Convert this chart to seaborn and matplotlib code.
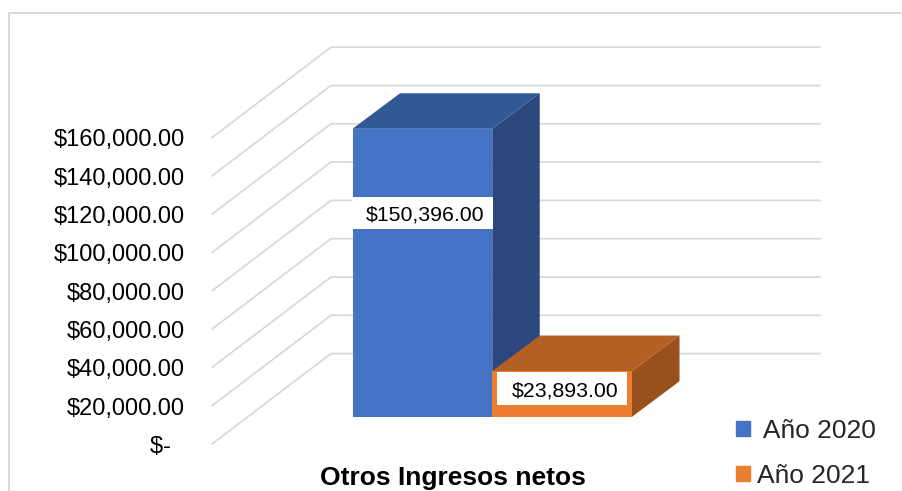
import seaborn as sns
import pandas as pd
import matplotlib.pyplot as plt
from matplotlib.lines import Line2D
from matplotlib.patches import Polygon, Rectangle
from matplotlib.transforms import Affine2D

category = ['Otros Ingresos netos']
years = ['Año 2020', 'Año 2021']
values = [150396, 23893]
value_labels = ['$150,396.00', '$23,893.00']
tick_values = [0, 20000, 40000, 60000, 80000, 100000, 120000, 140000, 160000]
tick_labels = ['$-  ', '$20,000.00', '$40,000.00', '$60,000.00', '$80,000.00',
               '$100,000.00', '$120,000.00', '$140,000.00', '$160,000.00']

front_colors = ['#4472C4', '#ED7D31']
top_colors = ['#335896', '#B46024']
side_colors = ['#2A487D', '#98511D']
grid_color = '#D9D9D9'

W, H = 902, 491
LEFT, RIGHT, BOTTOM, TOP = 352.5, 632, 416.8, 110.4  # px, from the top left corner


def main():
    sns.set_style('white')
    plt.rcParams['font.family'] = ['Liberation Sans', 'DejaVu Sans']

    fig = plt.figure(figsize=(W / 100, H / 100), dpi=100)
    ax = fig.add_axes([LEFT / W, 1 - BOTTOM / H, (RIGHT - LEFT) / W, (BOTTOM - TOP) / H])

    data = pd.DataFrame({'category': category * 2, 'year': years, 'value': values})
    sns.barplot(data=data, x='category', y='value', hue='year', palette=front_colors,
                width=0.8, gap=0, saturation=1, legend=False, linewidth=0, edgecolor='none', ax=ax)

    ax.set_xlim(-0.4, 0.4)
    ax.set_ylim(0, tick_values[-1])
    sns.despine(ax=ax, left=True, bottom=True)
    ax.patch.set_alpha(0)

    # one pixel in data units, the fake 3d is built from these
    px_x = 0.8 / (RIGHT - LEFT)
    px_y = tick_values[-1] / (BOTTOM - TOP)

    # walls
    x0 = -0.4
    for v in tick_values:
        xs = [x0 - 140.5 * px_x, x0 - 21.5 * px_x, x0 + 467.5 * px_x]
        ys = [v - 27.2 * px_y, v + 63.2 * px_y, v + 63.2 * px_y]
        ax.plot(xs, ys, color=grid_color, lw=1.3, clip_on=False, zorder=1)

    # depth of the bars
    dx, dy = 47.5 * px_x, 35.5 * px_y
    bars = list(ax.patches[:2])
    for i, bar in enumerate(bars):
        x, w, h = bar.get_x(), bar.get_width(), bar.get_height()
        z = 2 + 2 * i
        ax.add_patch(Polygon([(x, h), (x + w, h), (x + w + dx, h + dy), (x + dx, h + dy)],
                             color=top_colors[i], lw=0, clip_on=False, zorder=z))
        ax.add_patch(Polygon([(x + w, 0), (x + w + dx, dy), (x + w + dx, h + dy), (x + w, h)],
                             color=side_colors[i], lw=0, clip_on=False, zorder=z))
        bar.set_zorder(z + 1)

    # value boxes
    offsets = [-84, -17.5]
    box_widths = [141, 129.3]
    for bar, label, off, bw in zip(bars, value_labels, offsets, box_widths):
        cx = bar.get_x() + bar.get_width() / 2
        cy = bar.get_height() + off * px_y
        ax.add_patch(Rectangle((cx - bw / 2 * px_x, cy - 16.2 * px_y), bw * px_x, 32.4 * px_y,
                               fc='white', ec='none', clip_on=False, zorder=9))
        ax.annotate(label, (cx, cy), xytext=(3, 0), textcoords='offset pixels',
                    ha='center', va='center_baseline', fontsize=15.3, color='black',
                    zorder=10, annotation_clip=False)

    # axis text
    ax.set_yticks(tick_values, tick_labels)
    ax.tick_params(axis='y', length=0, pad=120.9, labelsize=17, labelcolor='black')
    for lab in ax.get_yticklabels():
        lab.set_transform(lab.get_transform() + Affine2D().translate(0, -27.5))
    ax.set_xticks([])
    ax.set_ylabel('')
    ax.set_xlabel(category[0], x=(452.5 - LEFT) / (RIGHT - LEFT), labelpad=35.5,
                  fontsize=19, fontweight='bold', color='black')

    # legend, first entry sits a bit further from its box
    handles = [Rectangle((0, 0), 1, 1, color=c) for c in front_colors]
    ax.legend(handles, [' ' + years[0], years[1]], loc='lower left',
              bbox_to_anchor=(736 / W, 1 - 488 / H), bbox_transform=fig.transFigure,
              frameon=False, fontsize=19, handlelength=0.53, handleheight=0.53,
              handletextpad=0.25, labelspacing=0.8, borderpad=0, borderaxespad=0)

    # chart frame, cut off at the bottom of the picture
    fig.add_artist(Line2D([9 / W, 9 / W, 901 / W], [0, 1 - 12.5 / H, 1 - 12.5 / H],
                          color=grid_color, lw=1.4))

    fig.savefig('out.png', dpi=100)
    plt.close()


if __name__ == "__main__":
    main()
